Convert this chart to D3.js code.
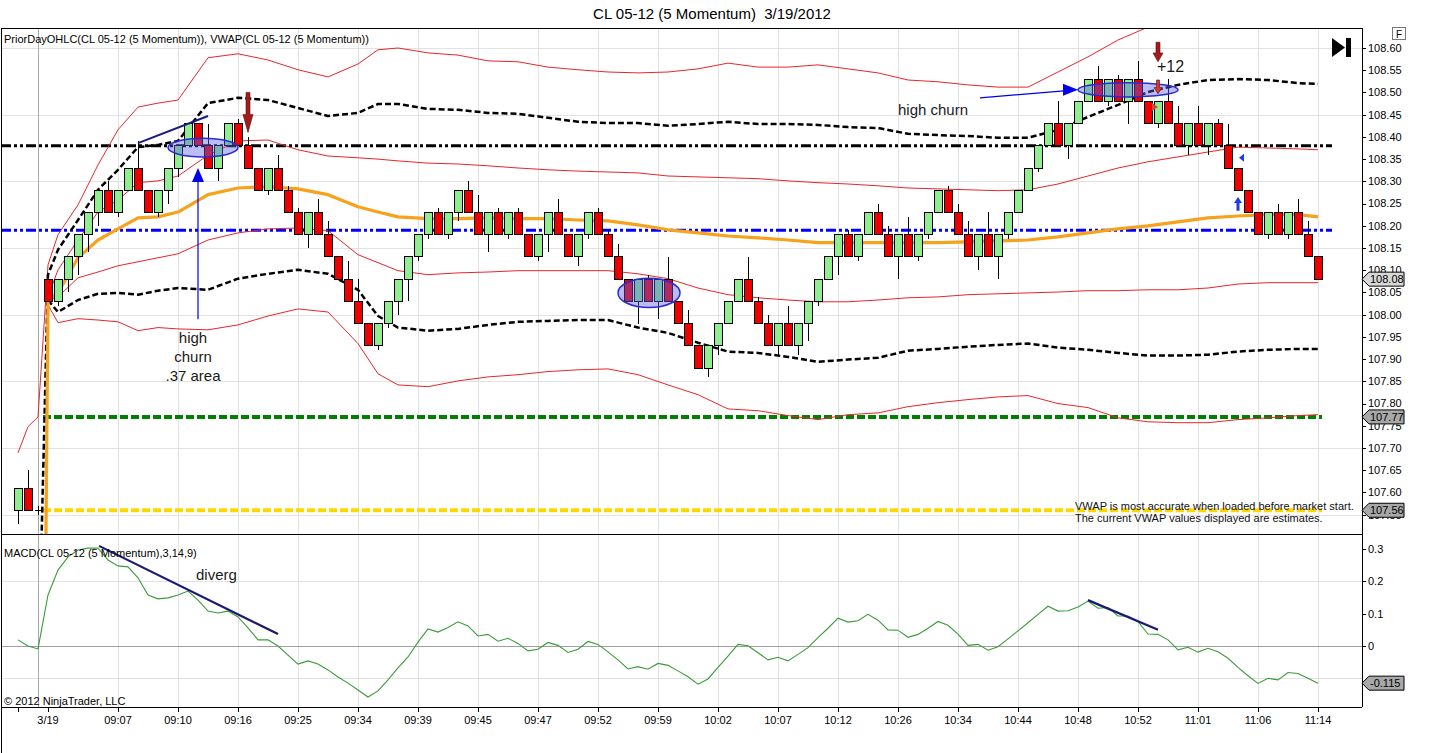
<!DOCTYPE html>
<html>
<head>
<meta charset="utf-8">
<script src="https://cdn.jsdelivr.net/npm/d3@7"></script>
<style>
  body { margin: 0; background: #fff; }
  text { font-family: "Liberation Sans", Arial, sans-serif; }
</style>
</head>
<body>
<div id="chart"></div>
<script>
// momentum bars, index 0..130
var opens = [
  107.56, 107.61, 107.56, 108.08, 108.03, 108.08, 108.13, 108.18, 108.23, 108.28,
  108.23, 108.28, 108.33, 108.28, 108.23, 108.28, 108.33, 108.38, 108.43, 108.38,
  108.33, 108.38, 108.43, 108.38, 108.33, 108.28, 108.33, 108.28, 108.23, 108.18,
  108.23, 108.18, 108.13, 108.08, 108.03, 107.98, 107.93, 107.98, 108.03, 108.08,
  108.13, 108.18, 108.23, 108.18, 108.23, 108.28, 108.23, 108.18, 108.23, 108.18,
  108.23, 108.18, 108.13, 108.18, 108.23, 108.18, 108.13, 108.18, 108.23, 108.18,
  108.13, 108.08, 108.03, 108.08, 108.03, 108.08, 108.03, 107.98, 107.93, 107.88,
  107.93, 107.98, 108.03, 108.08, 108.03, 107.98, 107.93, 107.98, 107.93, 107.98,
  108.03, 108.08, 108.13, 108.18, 108.13, 108.18, 108.23, 108.18, 108.13, 108.18,
  108.13, 108.18, 108.23, 108.28, 108.23, 108.18, 108.13, 108.18, 108.13, 108.18,
  108.23, 108.28, 108.33, 108.38, 108.43, 108.38, 108.43, 108.48, 108.53, 108.48,
  108.53, 108.48, 108.53, 108.48, 108.43, 108.48, 108.43, 108.38, 108.43, 108.38,
  108.43, 108.38, 108.33, 108.28, 108.23, 108.18, 108.23, 108.18, 108.23, 108.18,
  108.13
];
var highs = [
  107.61, 107.65, 107.57, 108.08, 108.08, 108.13, 108.18, 108.23, 108.28, 108.30,
  108.28, 108.33, 108.39, 108.28, 108.28, 108.33, 108.38, 108.43, 108.43, 108.43,
  108.38, 108.43, 108.44, 108.40, 108.33, 108.33, 108.36, 108.29, 108.24, 108.23,
  108.26, 108.21, 108.13, 108.12, 108.08, 107.98, 107.98, 108.03, 108.08, 108.13,
  108.18, 108.23, 108.24, 108.23, 108.28, 108.30, 108.27, 108.23, 108.24, 108.23,
  108.24, 108.18, 108.18, 108.23, 108.26, 108.18, 108.18, 108.23, 108.24, 108.19,
  108.16, 108.08, 108.08, 108.09, 108.08, 108.13, 108.03, 108.01, 107.93, 107.93,
  107.98, 108.03, 108.08, 108.13, 108.04, 108.00, 107.98, 108.02, 107.98, 108.03,
  108.08, 108.13, 108.18, 108.19, 108.18, 108.23, 108.25, 108.20, 108.18, 108.22,
  108.18, 108.23, 108.28, 108.29, 108.25, 108.21, 108.18, 108.23, 108.18, 108.23,
  108.28, 108.33, 108.38, 108.43, 108.48, 108.43, 108.48, 108.53, 108.56, 108.53,
  108.54, 108.53, 108.57, 108.48, 108.48, 108.53, 108.47, 108.43, 108.47, 108.43,
  108.44, 108.43, 108.33, 108.28, 108.23, 108.23, 108.25, 108.23, 108.26, 108.21,
  108.13
];
var lows = [
  107.53, 107.56, 107.55, 108.03, 108.02, 108.05, 108.09, 108.14, 108.20, 108.23,
  108.22, 108.28, 108.28, 108.23, 108.22, 108.25, 108.31, 108.38, 108.38, 108.33,
  108.30, 108.38, 108.38, 108.33, 108.28, 108.27, 108.28, 108.23, 108.18, 108.15,
  108.18, 108.13, 108.08, 108.03, 107.98, 107.93, 107.92, 107.97, 108.00, 108.03,
  108.12, 108.17, 108.18, 108.17, 108.21, 108.23, 108.18, 108.14, 108.18, 108.17,
  108.18, 108.13, 108.12, 108.14, 108.18, 108.13, 108.11, 108.17, 108.18, 108.13,
  108.08, 108.03, 107.98, 108.03, 107.99, 108.03, 107.98, 107.93, 107.88, 107.86,
  107.91, 107.98, 108.03, 108.03, 107.98, 107.93, 107.91, 107.93, 107.91, 107.94,
  108.02, 108.08, 108.09, 108.13, 108.12, 108.18, 108.18, 108.13, 108.08, 108.13,
  108.12, 108.17, 108.23, 108.23, 108.18, 108.13, 108.10, 108.13, 108.08, 108.17,
  108.23, 108.28, 108.32, 108.38, 108.38, 108.35, 108.43, 108.48, 108.48, 108.47,
  108.48, 108.43, 108.48, 108.43, 108.42, 108.43, 108.38, 108.36, 108.38, 108.36,
  108.38, 108.33, 108.28, 108.23, 108.18, 108.17, 108.18, 108.17, 108.18, 108.13,
  108.08
];
var closes = [
  107.61, 107.56, 107.56, 108.03, 108.08, 108.13, 108.18, 108.23, 108.28, 108.23,
  108.28, 108.33, 108.28, 108.23, 108.28, 108.33, 108.38, 108.43, 108.38, 108.33,
  108.38, 108.43, 108.38, 108.33, 108.28, 108.33, 108.28, 108.23, 108.18, 108.23,
  108.18, 108.13, 108.08, 108.03, 107.98, 107.93, 107.98, 108.03, 108.08, 108.13,
  108.18, 108.23, 108.18, 108.23, 108.28, 108.23, 108.18, 108.23, 108.18, 108.23,
  108.18, 108.13, 108.18, 108.23, 108.18, 108.13, 108.18, 108.23, 108.18, 108.13,
  108.08, 108.03, 108.08, 108.03, 108.08, 108.03, 107.98, 107.93, 107.88, 107.93,
  107.98, 108.03, 108.08, 108.03, 107.98, 107.93, 107.98, 107.93, 107.98, 108.03,
  108.08, 108.13, 108.18, 108.13, 108.18, 108.23, 108.18, 108.13, 108.18, 108.13,
  108.18, 108.23, 108.28, 108.23, 108.18, 108.13, 108.18, 108.13, 108.18, 108.23,
  108.28, 108.33, 108.38, 108.43, 108.38, 108.43, 108.48, 108.53, 108.48, 108.53,
  108.48, 108.53, 108.48, 108.43, 108.48, 108.43, 108.38, 108.43, 108.38, 108.43,
  108.38, 108.33, 108.28, 108.23, 108.18, 108.23, 108.18, 108.23, 108.18, 108.13,
  108.08
];

// MACD(3,14,9) line, one value per bar
var macd = [
  0.019, 0.000, -0.009, 0.158, 0.235, 0.276, 0.297, 0.303, 0.303, 0.266,
  0.248, 0.245, 0.211, 0.158, 0.146, 0.149, 0.158, 0.170, 0.142, 0.108,
  0.102, 0.108, 0.090, 0.056, 0.019, 0.019, 0.000, -0.028, -0.056, -0.046,
  -0.056, -0.074, -0.096, -0.115, -0.136, -0.158, -0.139, -0.105, -0.068, -0.034,
  0.012, 0.053, 0.043, 0.057, 0.075, 0.062, 0.031, 0.036, 0.015, 0.024,
  0.008, -0.015, -0.010, 0.011, 0.002, -0.020, -0.010, 0.014, 0.005, -0.018,
  -0.043, -0.071, -0.064, -0.072, -0.054, -0.060, -0.077, -0.095, -0.118, -0.102,
  -0.066, -0.031, 0.005, 0.001, -0.021, -0.043, -0.035, -0.046, -0.026, -0.005,
  0.026, 0.055, 0.086, 0.074, 0.078, 0.098, 0.080, 0.050, 0.049, 0.027,
  0.036, 0.055, 0.076, 0.064, 0.037, 0.002, 0.005, -0.013, -0.002, 0.022,
  0.047, 0.072, 0.098, 0.123, 0.108, 0.109, 0.121, 0.139, 0.117, 0.119,
  0.093, 0.093, 0.075, 0.037, 0.036, 0.019, -0.012, -0.004, -0.019, -0.007,
  -0.018, -0.038, -0.066, -0.092, -0.116, -0.100, -0.105, -0.082, -0.085, -0.100,
  -0.115
];

// VWAP and its bands, read at these bars
var bandBars = [0, 1, 2, 3, 4, 6, 8, 10, 12, 14, 16, 19, 22, 25, 28, 31, 34, 36, 38, 41,
  44, 47, 50, 53, 56, 59, 62, 65, 68, 71, 74, 77, 80, 83, 86, 89, 92, 95, 98, 101,
  104, 107, 110, 113, 116, 119, 122, 125, 128, 130];
var vwap = [null, null, 105.45, 108.033, 108.049, 108.128, 108.168, 108.193, 108.218, 108.220,
  108.231, 108.270, 108.285, 108.288, 108.283, 108.270, 108.243, 108.231, 108.220, 108.216,
  108.216, 108.218, 108.216, 108.216, 108.213, 108.211, 108.202, 108.191, 108.184, 108.177,
  108.173, 108.168, 108.162, 108.162, 108.162, 108.162, 108.162, 108.164, 108.166, 108.168,
  108.175, 108.184, 108.193, 108.200, 108.209, 108.218, 108.222, 108.225, 108.225, 108.220];
var sd1Upper = [null, null, 107.17, 108.090, 108.146, 108.213, 108.281, 108.326, 108.377, 108.382,
  108.391, 108.476, 108.488, 108.483, 108.465, 108.447, 108.454, 108.474, 108.474, 108.463,
  108.461, 108.454, 108.452, 108.443, 108.434, 108.431, 108.431, 108.425, 108.429, 108.434,
  108.429, 108.429, 108.427, 108.422, 108.420, 108.407, 108.404, 108.402, 108.398, 108.398,
  108.416, 108.445, 108.472, 108.501, 108.517, 108.528, 108.530, 108.528, 108.521, 108.519];
var sd1Lower = [null, null, null, 108.033, 108.006, 108.033, 108.047, 108.049, 108.045, 108.054,
  108.060, 108.056, 108.081, 108.092, 108.101, 108.092, 108.056, 107.997, 107.971, 107.964,
  107.968, 107.977, 107.984, 107.986, 107.988, 107.988, 107.971, 107.959, 107.937, 107.917,
  107.914, 107.905, 107.894, 107.899, 107.903, 107.919, 107.923, 107.928, 107.932, 107.935,
  107.926, 107.921, 107.914, 107.908, 107.908, 107.910, 107.917, 107.921, 107.923, 107.923];
var sd2Upper = [null, null, null, 108.040, 108.101, 108.168, 108.231, 108.258, 108.297, 108.301,
  108.312, 108.359, 108.391, 108.393, 108.371, 108.357, 108.353, 108.350, 108.346, 108.341,
  108.339, 108.335, 108.330, 108.326, 108.323, 108.321, 108.319, 108.312, 108.310, 108.308,
  108.306, 108.301, 108.297, 108.294, 108.290, 108.285, 108.283, 108.281, 108.279, 108.281,
  108.294, 108.312, 108.330, 108.344, 108.355, 108.366, 108.377, 108.375, 108.373, 108.371];
var sd2Lower = [null, null, null, 108.033, 108.040, 108.083, 108.096, 108.110, 108.119, 108.128,
  108.137, 108.168, 108.184, 108.193, 108.195, 108.189, 108.135, 108.117, 108.099, 108.090,
  108.094, 108.096, 108.099, 108.099, 108.099, 108.099, 108.092, 108.081, 108.060, 108.045,
  108.038, 108.033, 108.029, 108.029, 108.033, 108.038, 108.040, 108.045, 108.047, 108.049,
  108.051, 108.054, 108.054, 108.056, 108.056, 108.060, 108.069, 108.072, 108.072, 108.072];
var sd3Upper = [107.689, 107.748, 107.770, 108.112, 108.180, 108.247, 108.337, 108.416, 108.467, 108.476,
  108.483, 108.578, 108.587, 108.573, 108.551, 108.535, 108.564, 108.596, 108.600, 108.589,
  108.584, 108.571, 108.569, 108.557, 108.551, 108.546, 108.544, 108.546, 108.553, 108.566,
  108.557, 108.557, 108.562, 108.553, 108.544, 108.528, 108.524, 108.517, 108.512, 108.512,
  108.546, 108.580, 108.618, 108.647, 108.663, 108.681, 108.690, 108.697, 108.697, 108.697];
var sd3Lower = [null, null, null, 108.022, 107.982, 107.991, 107.988, 107.984, 107.964, 107.971,
  107.968, 107.966, 107.977, 107.997, 108.013, 108.006, 107.935, 107.867, 107.842, 107.838,
  107.851, 107.860, 107.865, 107.872, 107.876, 107.878, 107.865, 107.842, 107.820, 107.788,
  107.784, 107.773, 107.764, 107.775, 107.779, 107.793, 107.802, 107.809, 107.815, 107.818,
  107.800, 107.791, 107.768, 107.759, 107.757, 107.757, 107.764, 107.768, 107.773, 107.775];

// prior day OHLC levels
var pdHigh = 108.38, pdClose = 108.19, pdLow = 107.77, pdOpen = 107.56;

// axes
var tickBars = [0, 3, 10, 16, 22, 28, 34, 40, 46, 52, 58, 64, 70, 76, 82, 88, 94, 100, 106, 112, 118, 124, 130];
var tickLabels = ["", "3/19", "09:07", "09:10", "09:16", "09:25", "09:34", "09:39", "09:45", "09:47", "09:52",
  "09:59", "10:02", "10:07", "10:12", "10:26", "10:34", "10:44", "10:48", "10:52", "11:01", "11:06", "11:14"];
var priceTicks = [107.55, 107.60, 107.65, 107.70, 107.75, 107.80, 107.85, 107.90, 107.95, 108.00, 108.05,
  108.10, 108.15, 108.20, 108.25, 108.30, 108.35, 108.40, 108.45, 108.50, 108.55, 108.60];
var priceGrid = [107.55, 107.70, 107.85, 108.00, 108.15, 108.30, 108.45, 108.60];
var macdTicks = [0, 0.1, 0.2, 0.3];
var macdGrid = [-0.1, 0.2];

var W = 1432, H = 753;
var left = 1, right = 1362, mainTop = 28, mainBottom = 534, macdBottom = 707;

var svg = d3.select("#chart").append("svg")
  .attr("width", W)
  .attr("height", H);

var x = d3.scaleLinear().domain([0, 130]).range([18, 1318]);
var y = d3.scaleLinear().domain([107.55, 108.60]).range([514.7, 48]);
var ym = d3.scaleLinear().domain([-0.1, 0.3]).range([678.3, 549.1]);

var defs = svg.append("defs");
defs.append("clipPath").attr("id", "clipMain")
  .append("rect").attr("x", left).attr("y", mainTop).attr("width", right - left).attr("height", mainBottom - mainTop);
defs.append("clipPath").attr("id", "clipMacd")
  .append("rect").attr("x", left).attr("y", mainBottom).attr("width", right - left).attr("height", macdBottom - mainBottom);

// title
svg.append("text")
  .attr("x", 712).attr("y", 19)
  .attr("text-anchor", "middle")
  .attr("font-size", 15)
  .style("white-space", "pre")
  .text("CL 05-12 (5 Momentum)  3/19/2012");

// grid
var grid = svg.append("g").attr("stroke", "#e2e2e2").attr("stroke-width", 1);
grid.selectAll(".vg").data(tickBars.slice(2)).join("line")
  .attr("x1", d => x(d) + 0.5).attr("x2", d => x(d) + 0.5)
  .attr("y1", mainTop).attr("y2", macdBottom);
grid.selectAll(".hg").data(priceGrid).join("line")
  .attr("x1", left).attr("x2", right)
  .attr("y1", d => Math.round(y(d)) + 0.5).attr("y2", d => Math.round(y(d)) + 0.5);
grid.selectAll(".mg").data(macdGrid).join("line")
  .attr("x1", left).attr("x2", right)
  .attr("y1", d => Math.round(ym(d)) + 0.5).attr("y2", d => Math.round(ym(d)) + 0.5);

// session break
svg.append("line")
  .attr("x1", x(2) + 0.5).attr("x2", x(2) + 0.5)
  .attr("y1", mainTop).attr("y2", macdBottom)
  .attr("stroke", "#a8a8a8");

// zero line of MACD
svg.append("line")
  .attr("x1", left).attr("x2", right)
  .attr("y1", Math.round(ym(0)) + 0.5).attr("y2", Math.round(ym(0)) + 0.5)
  .attr("stroke", "#a0a0a0");

var main = svg.append("g").attr("clip-path", "url(#clipMain)");

// prior day lines
function level(v, from, to, color, width, dash) {
  main.append("line")
    .attr("x1", x(from)).attr("x2", x(to))
    .attr("y1", y(v)).attr("y2", y(v))
    .attr("stroke", color).attr("stroke-width", width)
    .attr("stroke-dasharray", dash);
}
level(pdHigh, -1.7, 131.4, "#000", 3, "10,3,3,3,3,3");
level(pdClose, -1.7, 131.4, "#0000ff", 3, "10,3,3,3,3,3");
level(pdLow, 2.5, 130.4, "#008000", 4, "8,3");
level(pdOpen, 2.5, 130.4, "#ffd700", 4, "8,3");

// VWAP bands
function band(vals, color, width, dash) {
  var pts = bandBars.map((b, k) => [b, vals[k]]);
  var line = d3.line()
    .defined(d => d[1] != null)
    .x(d => x(d[0]))
    .y(d => y(d[1]));
  main.append("path")
    .datum(pts)
    .attr("d", line)
    .attr("fill", "none")
    .attr("stroke", color)
    .attr("stroke-width", width)
    .attr("stroke-dasharray", dash || null)
    .attr("stroke-linejoin", "round");
}
band(sd3Upper, "#e8262a", 1);
band(sd3Lower, "#e8262a", 1);
band(sd2Upper, "#e8262a", 1);
band(sd2Lower, "#e8262a", 1);
band(sd1Upper, "#000", 2.5, "6,3");
band(sd1Lower, "#000", 2.5, "6,3");
band(vwap, "#f7a21b", 3.2);

// candles
var bars = opens.map((o, i) => ({ i: i, o: o, h: highs[i], l: lows[i], c: closes[i] }));
var candles = main.append("g").attr("shape-rendering", "crispEdges");
candles.selectAll(".wick").data(bars).join("line")
  .attr("x1", d => x(d.i) + 0.5).attr("x2", d => x(d.i) + 0.5)
  .attr("y1", d => y(d.h)).attr("y2", d => y(d.l))
  .attr("stroke", "#000");
candles.selectAll(".body").data(bars.filter(d => d.o !== d.c)).join("rect")
  .attr("x", d => x(d.i) - 3.5)
  .attr("y", d => y(Math.max(d.o, d.c)))
  .attr("width", 8)
  .attr("height", d => Math.abs(y(d.o) - y(d.c)))
  .attr("fill", d => d.c > d.o ? "#90ee90" : "#ee0000")
  .attr("stroke", "#000");
candles.selectAll(".doji").data(bars.filter(d => d.o === d.c)).join("line")
  .attr("x1", d => x(d.i) - 3.5).attr("x2", d => x(d.i) + 4.5)
  .attr("y1", d => y(d.o)).attr("y2", d => y(d.o))
  .attr("stroke", "#000");

// drawn annotations (bar, price)
var ellipses = [[18.5, 108.376, 3.5, 0.021], [63.1, 108.049, 3.1, 0.033], [111, 108.506, 5, 0.016]];
var trendLine = [12, 108.386, 19, 108.447];
var churnArrow = [96.2, 108.488, 106, 108.506];
var bigUpArrow = [18, 107.99, 108.33];

var notes = main.append("g");
notes.selectAll("ellipse").data(ellipses).join("ellipse")
  .attr("cx", d => x(d[0]))
  .attr("cy", d => y(d[1]))
  .attr("rx", d => x(d[2]) - x(0))
  .attr("ry", d => y(d[1] - d[3]) - y(d[1]))
  .attr("fill", "rgba(96,96,230,0.42)")
  .attr("stroke", "#2b2bd6")
  .attr("stroke-width", 1.5);

notes.append("line")
  .attr("x1", x(trendLine[0])).attr("y1", y(trendLine[1]))
  .attr("x2", x(trendLine[2])).attr("y2", y(trendLine[3]))
  .attr("stroke", "#1a1a80").attr("stroke-width", 2);

// blue arrow up under the first churn
var bx = x(bigUpArrow[0]);
notes.append("line")
  .attr("x1", bx).attr("x2", bx)
  .attr("y1", y(bigUpArrow[1])).attr("y2", y(bigUpArrow[2]) + 12)
  .attr("stroke", "#0000ee").attr("stroke-width", 1.2);
notes.append("path")
  .attr("d", `M${bx - 6},${y(bigUpArrow[2]) + 14} L${bx + 6},${y(bigUpArrow[2]) + 14} L${bx},${y(bigUpArrow[2])} Z`)
  .attr("fill", "#0000ee");

// arrow pointing at the second churn
var ax1 = x(churnArrow[0]), ay1 = y(churnArrow[1]), ax2 = x(churnArrow[2]), ay2 = y(churnArrow[3]);
notes.append("line")
  .attr("x1", ax1).attr("y1", ay1).attr("x2", ax2 - 14).attr("y2", ay2 + 1)
  .attr("stroke", "#0000ee").attr("stroke-width", 1.2);
notes.append("path")
  .attr("d", `M${ax2 - 15},${ay2 - 6} L${ax2 - 15},${ay2 + 6} L${ax2},${ay2} Z`)
  .attr("fill", "#0000ee");

// trade markers
function downArrow(bar, top, bottom, color, shaft) {
  var cx = x(bar), y0 = y(top), y1 = y(bottom), hh = (y1 - y0) * 0.45;
  notes.append("path")
    .attr("d", `M${cx - shaft / 2},${y0} L${cx + shaft / 2},${y0} L${cx + shaft / 2},${y1 - hh} L${cx + shaft + 1},${y1 - hh} L${cx},${y1} L${cx - shaft - 1},${y1 - hh} L${cx - shaft / 2},${y1 - hh} Z`)
    .attr("fill", color).attr("stroke", "#5a0d0d").attr("stroke-width", 0.6);
}
downArrow(23, 108.50, 108.41, "#a11c1c", 4);
downArrow(114, 108.613, 108.569, "#a11c1c", 4);
downArrow(114, 108.528, 108.497, "#d43a2a", 3);

notes.append("path")
  .attr("d", `M${x(113.7) - 3},${y(108.467) - 4} L${x(113.7) - 3},${y(108.467) + 4} L${x(113.7) + 3},${y(108.467)} Z`)
  .attr("fill", "#d24a3a");

var ux = x(122), uTop = y(108.265), uBot = y(108.234);
notes.append("path")
  .attr("d", `M${ux - 1.5},${uBot} L${ux + 1.5},${uBot} L${ux + 1.5},${uTop + 6} L${ux + 4},${uTop + 6} L${ux},${uTop} L${ux - 4},${uTop + 6} L${ux - 1.5},${uTop + 6} Z`)
  .attr("fill", "#1a3cf0");
notes.append("path")
  .attr("d", `M${x(122.4) + 2},${y(108.353) - 4} L${x(122.4) + 2},${y(108.353) + 4} L${x(122.4) - 3},${y(108.353)} Z`)
  .attr("fill", "#1a3cf0");

// annotation text
var noteText = notes.append("g").attr("font-size", 15).attr("fill", "#1a1a1a");
noteText.append("text").attr("x", x(17.5)).attr("y", y(107.937)).attr("text-anchor", "middle").text("high");
noteText.append("text").attr("x", x(17.5)).attr("y", y(107.894)).attr("text-anchor", "middle").text("churn");
noteText.append("text").attr("x", x(17.5)).attr("y", y(107.851)).attr("text-anchor", "middle").text(".37 area");
noteText.append("text").attr("x", x(88)).attr("y", y(108.45)).text("high churn");
noteText.append("text").attr("x", x(113.9)).attr("y", y(108.546)).attr("font-size", 16).text("+12");

// VWAP note
var vnote = svg.append("g").attr("font-size", 11).attr("fill", "#111");
vnote.append("text").attr("x", 1075).attr("y", 510).text("VWAP is most accurate when loaded before market start.");
vnote.append("text").attr("x", 1075).attr("y", 522).text("The current VWAP values displayed are estimates.");

// MACD panel
var macdG = svg.append("g").attr("clip-path", "url(#clipMacd)");
macdG.append("path")
  .datum(macd)
  .attr("d", d3.line().x((d, i) => x(i)).y(d => ym(d)))
  .attr("fill", "none")
  .attr("stroke", "#3c9a3c")
  .attr("stroke-width", 1.1);

var divergLines = [[8.1, 0.310, 26, 0.037], [107, 0.142, 114, 0.050]];
macdG.selectAll(".dl").data(divergLines).join("line")
  .attr("x1", d => x(d[0])).attr("y1", d => ym(d[1]))
  .attr("x2", d => x(d[2])).attr("y2", d => ym(d[3]))
  .attr("stroke", "#1a1a70").attr("stroke-width", 2.2);
macdG.append("text")
  .attr("x", x(17.8)).attr("y", ym(0.205))
  .attr("font-size", 15).attr("fill", "#1a1a1a")
  .text("diverg");

// panel labels
svg.append("text").attr("x", 4).attr("y", 43).attr("font-size", 11)
  .text("PriorDayOHLC(CL 05-12 (5 Momentum)), VWAP(CL 05-12 (5 Momentum))");
svg.append("text").attr("x", 4).attr("y", 557).attr("font-size", 11)
  .text("MACD(CL 05-12 (5 Momentum),3,14,9)");
svg.append("text").attr("x", 4).attr("y", 705).attr("font-size", 11)
  .text("© 2012 NinjaTrader, LLC");

// frames
var frame = svg.append("g").attr("stroke", "#000").attr("shape-rendering", "crispEdges");
frame.append("line").attr("x1", left).attr("x2", right).attr("y1", mainTop).attr("y2", mainTop);
frame.append("line").attr("x1", left).attr("x2", right).attr("y1", mainBottom).attr("y2", mainBottom);
frame.append("line").attr("x1", left).attr("x2", right).attr("y1", macdBottom).attr("y2", macdBottom);
frame.append("line").attr("x1", left).attr("x2", left).attr("y1", mainTop).attr("y2", macdBottom + 46);
frame.append("line").attr("x1", right).attr("x2", right).attr("y1", mainTop).attr("y2", macdBottom);

// right price axis
var pAxis = svg.append("g").attr("font-size", 11);
pAxis.selectAll("line").data(priceTicks).join("line")
  .attr("x1", right).attr("x2", right + 4)
  .attr("y1", d => Math.round(y(d)) + 0.5).attr("y2", d => Math.round(y(d)) + 0.5)
  .attr("stroke", "#000");
pAxis.selectAll("text").data(priceTicks).join("text")
  .attr("x", right + 6).attr("y", d => y(d)).attr("dy", "0.35em")
  .text(d => d.toFixed(2));

var mAxis = svg.append("g").attr("font-size", 11);
mAxis.selectAll("line").data(macdTicks).join("line")
  .attr("x1", right).attr("x2", right + 4)
  .attr("y1", d => Math.round(ym(d)) + 0.5).attr("y2", d => Math.round(ym(d)) + 0.5)
  .attr("stroke", "#000");
mAxis.selectAll("text").data(macdTicks).join("text")
  .attr("x", right + 6).attr("y", d => ym(d)).attr("dy", "0.35em")
  .text(d => d === 0 ? "0" : d.toFixed(1));

// value tags, drawn over the axis labels as in the platform
function tag(yy, label, fill) {
  var g = svg.append("g");
  g.append("path")
    .attr("d", `M${right},${yy} L${right + 7},${yy - 7} L${right + 42},${yy - 7} L${right + 42},${yy + 7} L${right + 7},${yy + 7} Z`)
    .attr("fill", fill).attr("stroke", "#000").attr("stroke-width", 1);
  g.append("text").attr("x", right + 8).attr("y", yy).attr("dy", "0.35em")
    .attr("font-size", 11).text(label);
}
tag(y(closes[closes.length - 1]), closes[closes.length - 1].toFixed(2), "#d8d8d8");
tag(y(pdLow), pdLow.toFixed(2), "#a8a8a8");
tag(y(pdOpen), pdOpen.toFixed(2), "#a8a8a8");
tag(ym(macd[macd.length - 1]), macd[macd.length - 1].toFixed(3), "#a8a8a8");

// time axis
var tAxis = svg.append("g").attr("font-size", 11);
tAxis.selectAll("line").data(tickBars).join("line")
  .attr("x1", d => x(d) + 0.5).attr("x2", d => x(d) + 0.5)
  .attr("y1", macdBottom).attr("y2", macdBottom + 5)
  .attr("stroke", "#000");
tAxis.selectAll("text").data(tickBars).join("text")
  .attr("x", d => x(d)).attr("y", 724)
  .attr("text-anchor", "middle")
  .text((d, k) => tickLabels[k]);

// toolbar marks, top right
svg.append("path").attr("d", "M1332,38 L1332,57 L1345,47.5 Z").attr("fill", "#000");
svg.append("rect").attr("x", 1346).attr("y", 38).attr("width", 5).attr("height", 19).attr("fill", "#000");
svg.append("rect").attr("x", 1392.5).attr("y", 27.5).attr("width", 13).attr("height", 12)
  .attr("fill", "#fff").attr("stroke", "#777");
svg.append("text").attr("x", 1399).attr("y", 37.5).attr("text-anchor", "middle")
  .attr("font-size", 10).text("F");
</script>
</body>
</html>
